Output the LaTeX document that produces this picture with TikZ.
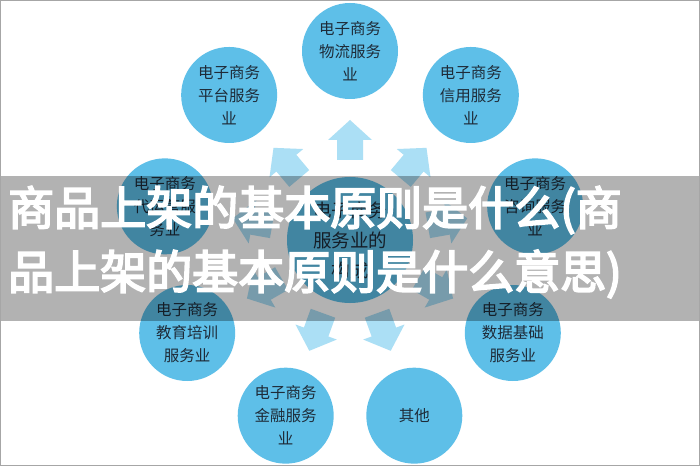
\documentclass[tikz,border=0pt]{standalone}
\usepackage{fontspec}
\setmainfont{Noto Sans CJK SC}
\newfontfamily\bannerfont{Noto Sans CJK SC}[FakeBold=4]
\definecolor{circ}{HTML}{5EBFE8}
\definecolor{arr}{HTML}{ABDFF5}
\definecolor{txt}{HTML}{1E2B38}
\tikzset{
  outer/.style={circle,fill=circ,minimum size=96pt,inner sep=0pt,text=txt,align=center,font=\fontsize{15.5}{23}\selectfont},
  centre/.style={circle,fill=circ,minimum size=126pt,inner sep=0pt,text=txt,align=center,font=\fontsize{18.5}{30}\selectfont},
  blockarrow/.style={fill=arr},
  banner/.style={fill=black,fill opacity=0.3},
  bannertext/.style={text=white,inner sep=0pt,anchor=base west,font=\bannerfont\fontsize{46}{46}\selectfont}
}
\begin{document}
\begin{tikzpicture}[x=1pt,y=1pt]
\useasboundingbox (0,0) rectangle (700,466);
\fill[white] (0,0) rectangle (700,466);
\coordinate (o) at (350,227);
% arrows
\foreach \a in {90,130,170,210,250,290,330,10,50}{
  \begin{scope}[shift={(o)},rotate=\a]
    \fill[blockarrow] (79,-13) -- (99,-13) -- (99,-22) -- (119,0) -- (99,22) -- (99,13) -- (79,13) -- cycle;
  \end{scope}
}
\node[centre] (c) at (350,226) {电子商务\\服务业的\\构成};
\node[outer] (n1) at ([shift={(90:188)}]o) {电子商务\\物流服务\\业};
\node[outer] (n2) at ([shift={(130:188)}]o) {电子商务\\平台服务\\业};
\node[outer] (n3) at ([shift={(170:188)}]o) {电子商务\\代运营服\\务业};
\node[outer] (n4) at ([shift={(210:188)}]o) {电子商务\\教育培训\\服务业};
\node[outer] (n5) at ([shift={(250:188)}]o) {电子商务\\金融服务\\业};
\node[outer] (n6) at ([shift={(290:188)}]o) {其他};
\node[outer] (n7) at ([shift={(330:188)}]o) {电子商务\\数据基础\\服务业};
\node[outer] (n8) at ([shift={(10:188)}]o) {电子商务\\咨询服务\\业};
\node[outer] (n9) at ([shift={(50:188)}]o) {电子商务\\信用服务\\业};
% banner
\fill[banner] (0,145) rectangle (700,290);
\node[bannertext] (t1) at (8,241) {商品上架的基本原则是什么(商};
\node[bannertext] (t2) at (8,177) {品上架的基本原则是什么意思)};
% border
\draw[gray!70,line width=1pt] (0.5,0.5) rectangle (699.5,465.5);
\end{tikzpicture}
\end{document}
